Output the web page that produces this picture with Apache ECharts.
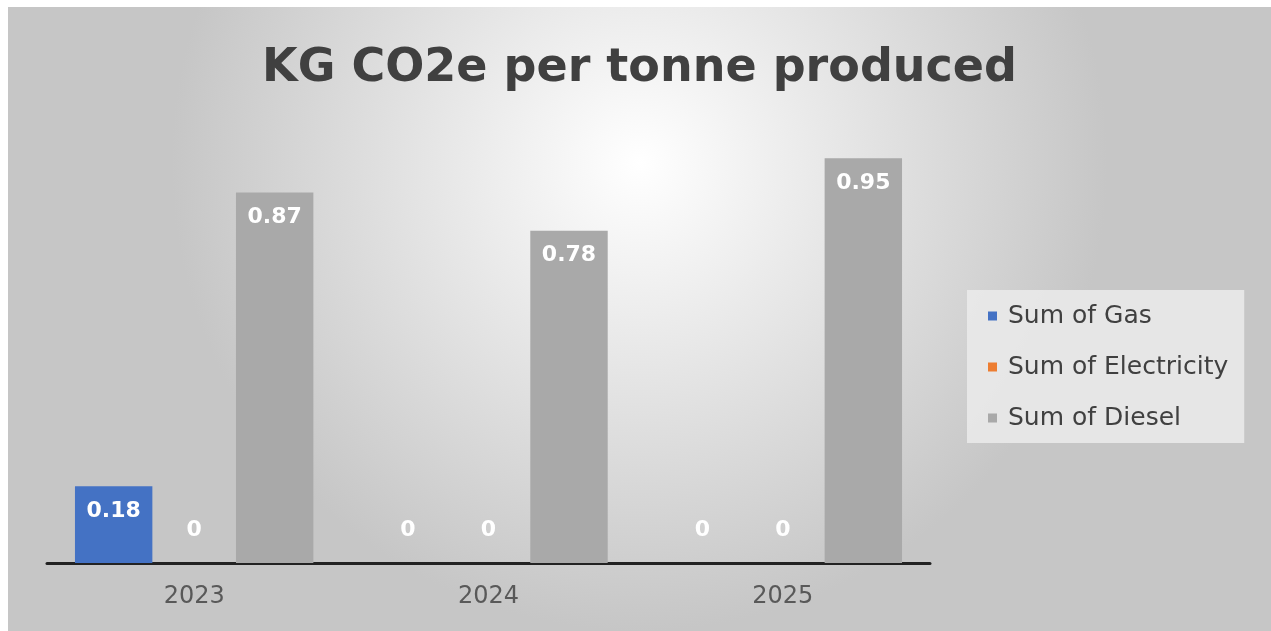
<!DOCTYPE html>
<html>
<head>
<meta charset="utf-8">
<script src="https://cdn.jsdelivr.net/npm/echarts@6/dist/echarts.min.js"></script>
<style>
  html, body { margin: 0; padding: 0; background: #fff; }
  #chart {
    position: absolute; left: 8px; top: 7px;
    width: 1263px; height: 624px;
  }
</style>
</head>
<body>
<div id="chart"></div>
<script>
  // 年份 / 系列数据
  const years = ['2023', '2024', '2025']
  const gas = [0.18, 0, 0]
  const electricity = [0, 0, 0]
  const diesel = [0.87, 0.78, 0.95]

  const myChart = echarts.init(document.getElementById('chart'))

  // zero bars: label sits above the axis line instead of inside
  function toItems(arr) {
    return arr.map(function (v) {
      if (v === 0) {
        return { value: v, label: { position: 'top', distance: 22 } }
      }
      return v
    })
  }

  function makeSeries(name, data, color) {
    return {
      name: name,
      type: 'bar',
      barGap: '4%',
      barCategoryGap: '19%',
      itemStyle: { color: color },
      label: {
        show: true,
        position: 'insideTop',
        distance: 14,
        color: '#fff',
        fontWeight: 'bold',
        fontSize: 22,
        fontFamily: 'DejaVu Sans'
      },
      data: toItems(data)
    }
  }

  const option = {
    backgroundColor: {
      type: 'radial', x: 0.5, y: 0.25, r: 0.75,
      colorStops: [
        { offset: 0, color: '#ffffff' },
        { offset: 1, color: '#c6c6c6' }
      ]
    },
    title: {
      text: 'KG CO2e per tonne produced',
      left: 'center',
      top: 34,
      textStyle: {
        fontFamily: 'DejaVu Sans',
        fontWeight: 'bold',
        fontSize: 46,
        color: '#404040'
      }
    },
    legend: {
      orient: 'vertical',
      left: 959,
      top: 283,
      padding: [13, 16, 12, 21],
      itemGap: 25,
      itemWidth: 9,
      itemHeight: 9,
      icon: 'rect',
      backgroundColor: 'rgba(235,235,235,0.85)',
      textStyle: {
        fontFamily: 'DejaVu Sans', fontSize: 25, lineHeight: 26,
        color: '#404040', padding: [0, 0, 0, 6]
      },
      data: ['Sum of Gas', 'Sum of Electricity', 'Sum of Diesel']
    },
    grid: { left: 39, right: 341, top: 130, bottom: 68 },
    xAxis: {
      type: 'category',
      data: years,
      axisLine: { lineStyle: { color: '#222', width: 3 } },
      axisTick: { show: false },
      axisLabel: { fontFamily: 'DejaVu Sans', fontSize: 24, color: '#595959', margin: 22 }
    },
    yAxis: {
      type: 'value',
      min: 0,
      max: 1,
      show: false,
      splitLine: { show: false }
    },
    series: [
      makeSeries('Sum of Gas', gas, '#4472C4'),
      makeSeries('Sum of Electricity', electricity, '#ED7D31'),
      makeSeries('Sum of Diesel', diesel, '#A9A9A9')
    ]
  }
  myChart.setOption(option)
</script>
</body>
</html>
